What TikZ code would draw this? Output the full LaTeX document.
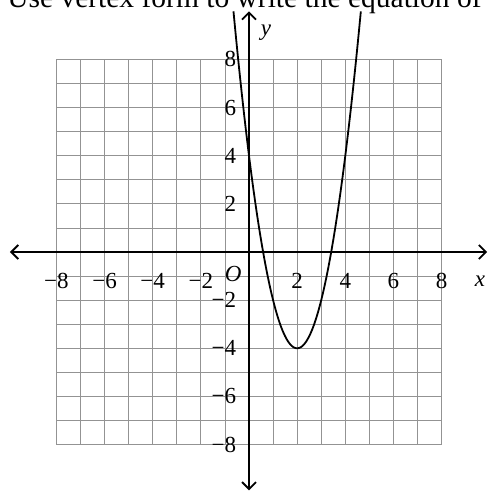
\documentclass[tikz,border=0pt]{standalone}
\usepackage{fontspec}
\setmainfont{Liberation Serif}
\usetikzlibrary{arrows.meta}
\begin{document}
\begin{tikzpicture}[x=24.07pt,y=24.07pt,
  gridline/.style={draw=gray!85, line width=0.8pt},
  axisline/.style={draw=black, line width=1.8pt, {Straight Barb[length=7pt,width=14pt]}-{Straight Barb[length=7pt,width=14pt]}},
  curve/.style={draw=black, line width=1.8pt},
  ticklab/.style={font=\fontsize{23}{23}\selectfont, inner sep=0pt},
  axlab/.style={font=\fontsize{23}{23}\selectfont\itshape, inner sep=0pt}]
\useasboundingbox (-10.345,-10.012) rectangle (9.971,10.469);
\fill[white] (-10.345,-10.012) rectangle (9.971,10.469);
% title (cut off at top)
\node[anchor=base west, inner sep=0pt, font=\fontsize{29.5}{29.5}\selectfont] (title) at (-10.05,10.15) {Use vertex form to write the equation of};
% grid
\foreach \i in {-8,...,8} {
  \draw[gridline] (\i,-8) -- (\i,8);
  \draw[gridline] (-8,\i) -- (8,\i);
}
% axes
\coordinate (xl) at (-9.93,0);
\coordinate (xr) at (9.89,0);
\coordinate (yb) at (0,-9.9);
\coordinate (yt) at (0,10.0);
\draw[axisline] (xl) -- (xr);
\draw[axisline] (yb) -- (yt);
\node[axlab] (xlab) at (9.6,-1.23) {x};
\node[axlab] (ylab) at (0.7,9.1) {y};
\node[axlab] (olab) at (-0.66,-0.9) {O};
% tick labels
\foreach \v/\t in {-8/−8,-6/−6,-4/−4,-2/−2,2/2,4/4,6/6,8/8} {
  \node[ticklab] (xt\v) at (\v,-1.2) {\t};
}
\foreach \v/\t in {8/8,6/6,4/4,2/2,-2/−2,-4/−4,-6/−6,-8/−8} {
  \node[ticklab, anchor=east] (yt\v) at (-0.53,\v) {\t};
}
% parabola y = 2(x-2)^2 - 4
\draw[curve, domain={2-sqrt(7)}:{2+sqrt(7)}, samples=120, smooth] plot (\x,{2*(\x-2)^2-4});
\end{tikzpicture}
\end{document}
